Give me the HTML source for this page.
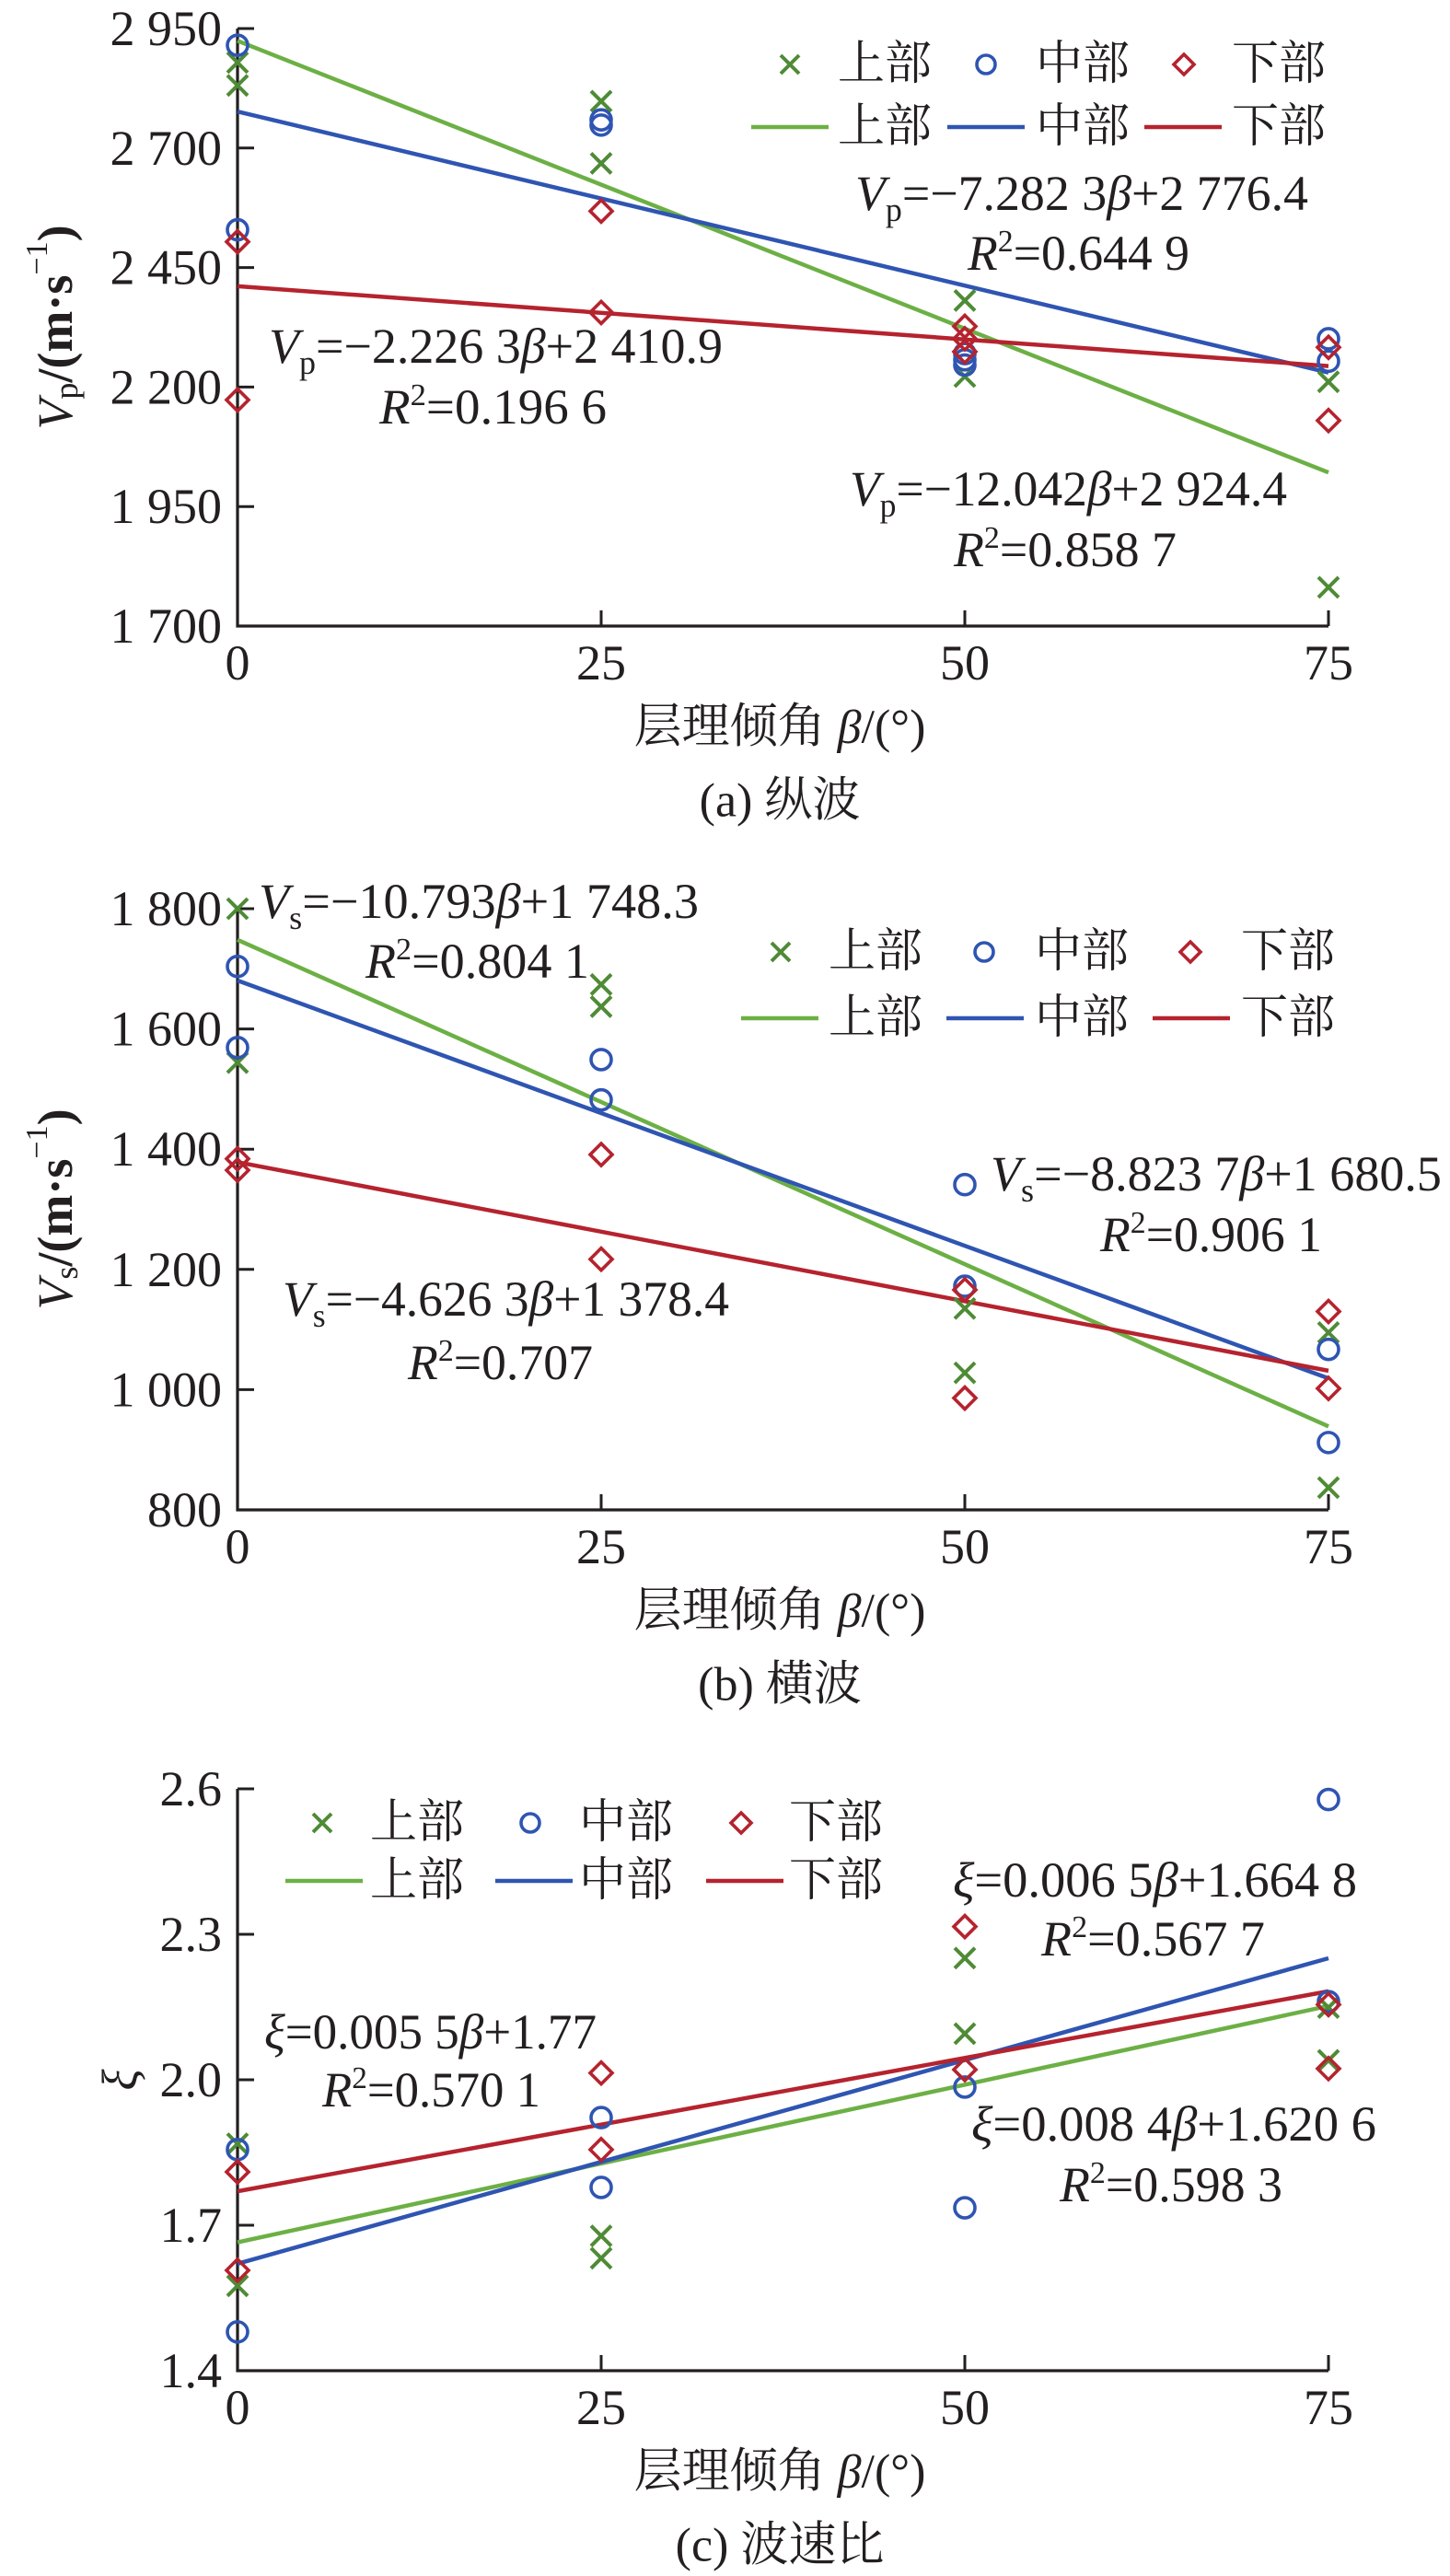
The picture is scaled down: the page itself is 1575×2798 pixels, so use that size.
<!DOCTYPE html>
<html><head><meta charset="utf-8">
<style>
html,body{margin:0;padding:0;background:#fff;}
svg{display:block;}
text{font-family:"Liberation Serif","Noto Serif CJK SC","Noto Sans CJK SC",serif;fill:#231f20;}
</style></head>
<body>
<svg id="fig" width="1575" height="2798" viewBox="0 0 1575 2798" xmlns="http://www.w3.org/2000/svg"></svg>
<script>
// ---------- shared ----------
const xCategories = [0, 25, 50, 75];
const seriesNames = ['上部', '中部', '下部'];

// ---------- chart (a) 纵波 ----------
const aYTicks = [1700, 1950, 2200, 2450, 2700, 2950];
const aYTickLabels = ['1 700', '1 950', '2 200', '2 450', '2 700', '2 950'];
const aUpperX = [0, 0, 25, 25, 50, 50, 75, 75];
const aUpperY = [2879, 2831, 2798, 2668, 2381, 2222, 2211, 1781];
const aMidX = [0, 0, 25, 25, 50, 50, 50, 75, 75];
const aMidY = [2915, 2529, 2759, 2748, 2270, 2257, 2246, 2301, 2254];
const aLowX = [0, 0, 25, 25, 50, 50, 50, 75, 75];
const aLowY = [2504, 2173, 2568, 2356, 2327, 2301, 2274, 2283, 2130];
const aFitSlope = [-12.042, -7.2823, -2.2263];
const aFitIntercept = [2924.4, 2776.4, 2410.9];

// ---------- chart (b) 横波 ----------
const bYTicks = [800, 1000, 1200, 1400, 1600, 1800];
const bYTickLabels = ['800', '1 000', '1 200', '1 400', '1 600', '1 800'];
const bUpperX = [0, 0, 25, 25, 50, 50, 75, 75];
const bUpperY = [1800, 1544, 1674, 1637, 1135, 1028, 1095, 837];
const bMidX = [0, 0, 25, 25, 50, 50, 75, 75];
const bMidY = [1704, 1569, 1549, 1482, 1172, 1341, 1067, 912];
const bLowX = [0, 0, 25, 25, 50, 50, 75, 75];
const bLowY = [1384, 1365, 1391, 1217, 1166, 986, 1130, 1002];
const bFitSlope = [-10.793, -8.8237, -4.6263];
const bFitIntercept = [1748.3, 1680.5, 1378.4];

// ---------- chart (c) 波速比 ----------
const cYTicks = [1.4, 1.7, 2.0, 2.3, 2.6];
const cYTickLabels = ['1.4', '1.7', '2.0', '2.3', '2.6'];
const cUpperX = [0, 0, 25, 25, 50, 50, 75, 75];
const cUpperY = [1.868, 1.575, 1.678, 1.632, 2.251, 2.095, 2.149, 2.040];
const cMidX = [0, 0, 25, 25, 50, 50, 75, 75];
const cMidY = [1.856, 1.480, 1.922, 1.778, 1.985, 1.736, 2.578, 2.161];
const cLowX = [0, 0, 25, 25, 50, 50, 75, 75];
const cLowY = [1.810, 1.607, 2.014, 1.856, 2.316, 2.021, 2.155, 2.023];
const cFitSlope = [0.0065, 0.0084, 0.0055];
const cFitIntercept = [1.6648, 1.6206, 1.77];

const NS = 'http://www.w3.org/2000/svg';
const svg = document.getElementById('fig');
const MARK = ['#4f8b36', '#2f55b2', '#b5232e'];
const LINE = ['#6cb045', '#2f55b2', '#b5232e'];
const X0 = 258, X1 = 1443;

function mk(tag, attrs, parent) {
  const e = document.createElementNS(NS, tag);
  for (const k in attrs) e.setAttribute(k, attrs[k]);
  (parent || svg).appendChild(e);
  return e;
}
function marker(g, type, cx, cy, s) {
  let e;
  if (type === 0) {
    e = mk('path', {d: `M${cx-s},${cy-s}L${cx+s},${cy+s}M${cx-s},${cy+s}L${cx+s},${cy-s}`, stroke: MARK[0], 'stroke-width': 4, fill: 'none'}, g);
  } else if (type === 1) {
    e = mk('circle', {cx: cx, cy: cy, r: s, stroke: MARK[1], 'stroke-width': 3.6, fill: 'none'}, g);
  } else {
    e = mk('path', {d: `M${cx},${cy-s-1}L${cx+s+1},${cy}L${cx},${cy+s+1}L${cx-s-1},${cy}Z`, stroke: MARK[2], 'stroke-width': 3.6, fill: 'none'}, g);
  }
  return e;
}
function eqText(g, x, y, w, html, name) {
  const t = mk('text', {x: x, y: y, 'font-size': 54, textLength: w, lengthAdjust: 'spacingAndGlyphs'}, g);
  t.innerHTML = html;
  
  
}

function drawChart(cfg) {
  const g = mk('g', {});
  
  
  const xs = v => X0 + (v - xCategories[0]) / (xCategories[xCategories.length - 1] - xCategories[0]) * (X1 - X0);
  const ys = v => cfg.bottom - (v - cfg.yMin) / (cfg.yMax - cfg.yMin) * (cfg.bottom - cfg.top);

  // axes
  const ax = mk('path', {d: `M${X0},${cfg.top}V${cfg.bottom}H${X1}`, stroke: '#231f20', 'stroke-width': 3.2, fill: 'none'}, g);
  
  
  cfg.yTicks.forEach((v, i) => {
    const y = ys(v);
    const tk = mk('line', {x1: X0, x2: X0 + 18, y1: y, y2: y, stroke: '#231f20', 'stroke-width': 3}, g);
    
    
    const t = mk('text', {x: 241, y: y, 'font-size': 54, 'text-anchor': 'end', 'dominant-baseline': 'central'}, g);
    t.textContent = cfg.yTickLabels[i];
    
    
  });
  xCategories.forEach(v => {
    const x = xs(v);
    if (v !== xCategories[0]) {
      const tk = mk('line', {x1: x, x2: x, y1: cfg.bottom, y2: cfg.bottom - 17, stroke: '#231f20', 'stroke-width': 3}, g);
      
      
    }
    const t = mk('text', {x: x, y: cfg.bottom + 40, 'font-size': 54, 'text-anchor': 'middle', 'dominant-baseline': 'central'}, g);
    t.textContent = String(v);
    
    
  });
  const xl = mk('text', {x: 847, y: cfg.bottom + 110, 'font-size': 52, 'text-anchor': 'middle', 'dominant-baseline': 'central'}, g);
  xl.innerHTML = '层理倾角 <tspan font-style="italic">β</tspan>/(°)';
  
  
  const cap = mk('text', {x: 847, y: cfg.bottom + 190, 'font-size': 52, 'text-anchor': 'middle', 'dominant-baseline': 'central'}, g);
  cap.textContent = cfg.caption;
  
  
  const yt = mk('text', {x: 0, y: 0, 'font-size': 54, 'text-anchor': 'middle', 'dominant-baseline': 'central', transform: `translate(${cfg.ytX},${(cfg.top + cfg.bottom) / 2}) rotate(-90)`}, g);
  yt.innerHTML = cfg.yTitle;
  
  

  // fit lines
  cfg.slope.forEach((s, i) => {
    const a = xCategories[0], b = xCategories[xCategories.length - 1];
    const l = mk('line', {x1: xs(a), y1: ys(cfg.intercept[i] + s * a), x2: xs(b), y2: ys(cfg.intercept[i] + s * b), stroke: LINE[i], 'stroke-width': 4.5}, g);
    
    
  });
  // points
  cfg.series.forEach((ser, i) => {
    ser[0].forEach((xv, j) => {
      const m = marker(g, i, xs(xv), ys(ser[1][j]), 11);
      
      
    });
  });

  // legend
  const L = cfg.legend;
  const lg = mk('g', {}, g);
  
  
  for (let i = 0; i < 3; i++) {
    const m = marker(lg, i, L.mx[i], L.r1, 10);
    
    
    const t1 = mk('text', {x: L.tx[i], y: L.r1, 'font-size': 51, 'dominant-baseline': 'central'}, lg);
    t1.textContent = seriesNames[i];
    
    
    const ln = mk('line', {x1: L.lx[i], x2: L.lx[i] + 84, y1: L.r2, y2: L.r2, stroke: LINE[i], 'stroke-width': 4.5}, lg);
    
    
    const t2 = mk('text', {x: L.tx[i], y: L.r2, 'font-size': 51, 'dominant-baseline': 'central'}, lg);
    t2.textContent = seriesNames[i];
    
    
  }
  cfg.eqs.forEach(e => eqText(g, e[0], e[1], e[2], e[3], 'regression-equation'));
}

const sub = s => `<tspan font-size="36" dy="12">${s}</tspan><tspan dy="-12">`;
const vEq = (s, rest) => `<tspan font-style="italic">V</tspan>${sub(s)}=−${rest}</tspan>`;
const bet = '<tspan font-style="italic">β</tspan>';
const r2 = v => `<tspan font-style="italic">R</tspan><tspan font-size="34" dy="-20">2</tspan><tspan dy="20">=${v}</tspan>`;
const xi = '<tspan font-style="italic">ξ</tspan>';

drawChart({
  name: 'chart-p-wave', caption: '(a) 纵波', yMin: 1700, yMax: 2950, top: 31, bottom: 680,
  yTicks: aYTicks, yTickLabels: aYTickLabels, ytX: 60,
  yTitle: '<tspan font-style="italic">V</tspan><tspan font-size="36" dy="12">p</tspan><tspan dy="-12" font-weight="bold">/(m·s</tspan><tspan font-size="34" dy="-20">−1</tspan><tspan dy="20" font-weight="bold">)</tspan>',
  series: [[aUpperX, aUpperY], [aMidX, aMidY], [aLowX, aLowY]],
  slope: aFitSlope, intercept: aFitIntercept,
  legend: {r1: 70, r2: 138, mx: [858, 1071, 1286], tx: [910, 1125, 1338], lx: [816, 1029, 1243]},
  eqs: [
    [929, 228, 492, vEq('p', '7.282 3' + bet + '+2 776.4')],
    [1051, 293, 241, r2('0.644 9')],
    [292, 394, 493, vEq('p', '2.226 3' + bet + '+2 410.9')],
    [412, 460, 247, r2('0.196 6')],
    [923, 549, 475, vEq('p', '12.042' + bet + '+2 924.4')],
    [1036, 615, 242, r2('0.858 7')]
  ]
});
drawChart({
  name: 'chart-s-wave', caption: '(b) 横波', yMin: 800, yMax: 1800, top: 987, bottom: 1640,
  yTicks: bYTicks, yTickLabels: bYTickLabels, ytX: 60,
  yTitle: '<tspan font-style="italic">V</tspan><tspan font-size="36" dy="12">s</tspan><tspan dy="-12" font-weight="bold">/(m·s</tspan><tspan font-size="34" dy="-20">−1</tspan><tspan dy="20" font-weight="bold">)</tspan>',
  series: [[bUpperX, bUpperY], [bMidX, bMidY], [bLowX, bLowY]],
  slope: bFitSlope, intercept: bFitIntercept,
  legend: {r1: 1034, r2: 1106, mx: [848, 1069, 1293], tx: [900, 1124, 1348], lx: [805, 1028, 1252]},
  eqs: [
    [281, 997, 478, vEq('s', '10.793' + bet + '+1 748.3')],
    [397, 1062, 243, r2('0.804 1')],
    [1076, 1293, 490, vEq('s', '8.823 7' + bet + '+1 680.5')],
    [1195, 1359, 241, r2('0.906 1')],
    [307, 1429, 485, vEq('s', '4.626 3' + bet + '+1 378.4')],
    [443, 1498, 201, r2('0.707')]
  ]
});
drawChart({
  name: 'chart-velocity-ratio', caption: '(c) 波速比', yMin: 1.4, yMax: 2.6, top: 1943, bottom: 2575,
  yTicks: cYTicks, yTickLabels: cYTickLabels, ytX: 130,
  yTitle: '<tspan font-style="italic">ξ</tspan>',
  series: [[cUpperX, cUpperY], [cMidX, cMidY], [cLowX, cLowY]],
  slope: cFitSlope, intercept: cFitIntercept,
  legend: {r1: 1980, r2: 2043, mx: [350, 576, 805], tx: [402, 629, 857], lx: [310, 538, 767]},
  eqs: [
    [1035, 2060, 439, xi + '=0.006 5' + bet + '+1.664 8'],
    [1131, 2124, 243, r2('0.567 7')],
    [287, 2225, 361, xi + '=0.005 5' + bet + '+1.77'],
    [350, 2288, 237, r2('0.570 1')],
    [1055, 2325, 440, xi + '=0.008 4' + bet + '+1.620 6'],
    [1151, 2391, 242, r2('0.598 3')]
  ]
});
</script>
</body></html>
